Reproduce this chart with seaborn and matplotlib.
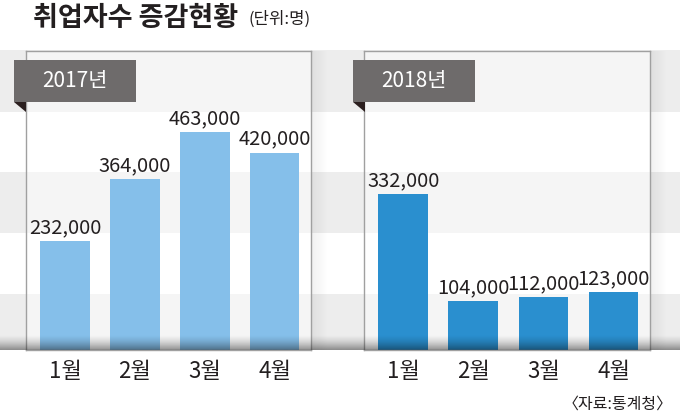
import numpy as np
import pandas as pd
import matplotlib
matplotlib.use("Agg")
import matplotlib.pyplot as plt
from matplotlib.patches import Rectangle, Polygon
import seaborn as sns

# ---- data ----
months = ["1월", "2월", "3월", "4월"]
values_2017 = [232000, 364000, 463000, 420000]
values_2018 = [332000, 104000, 112000, 123000]
years = ["2017년", "2018년"]
title = "취업자수 증감현황"
unit = "(단위:명)"
source = "〈자료:통계청〉"

sns.set_theme(style="white")
plt.rcParams['font.family'] = ['Noto Sans CJK KR', 'DejaVu Sans']

W, H = 680, 416
fig = plt.figure(figsize=(W / 100, H / 100), dpi=100)
fig.patch.set_facecolor("white")

# background axes in pixel coordinates
bg = fig.add_axes([0, 0, 1, 1], zorder=0)
bg.set_xlim(0, W)
bg.set_ylim(H, 0)
bg.axis("off")
for y0, y1 in [(50, 112), (172, 233), (294, 350)]:
    bg.add_patch(Rectangle((0, y0), W, y1 - y0, color="#ededed", lw=0))

# panel shadows on right side
for xr in [311, 650]:
    grad = np.linspace(0.06, 0, 18)[None, :]
    bg.imshow(np.dstack([np.zeros((1, 18))] * 3 + [grad]), extent=(xr, xr + 18, 350, 51),
              aspect="auto", zorder=1)
bg.set_xlim(0, W)
bg.set_ylim(H, 0)

panels = [
    (26, 311, values_2017, "#85bfea"),
    (364, 650, values_2018, "#2a8fcf"),
]
ymax = 636000
axes = []
for (x0, x1, vals, col) in panels:
    ax = fig.add_axes([x0 / W, (H - 350) / H, (x1 - x0) / W, 299 / H], zorder=2)
    ax.patch.set_facecolor("white")
    ax.patch.set_alpha(0.45)
    df = pd.DataFrame({"month": months, "value": vals})
    sns.barplot(data=df, x="month", y="value", color=col, width=0.71,
                saturation=1, ax=ax, edgecolor="none")
    ax.set_xlim(-0.56, 3.52)
    ax.set_ylim(0, ymax)
    ax.set_xlabel("")
    ax.set_ylabel("")
    ax.set_yticks([])
    ax.tick_params(axis="x", length=0, pad=7, labelcolor="#231f20", labelsize=16)
    for s in ax.spines.values():
        s.set_color("#a0a0a0")
        s.set_linewidth(1.0)
    ax.bar_label(ax.containers[0], labels=[f"{v:,}" for v in vals], padding=2,
                 fontsize=14.5, color="#231f20")
    axes.append(ax)

# overlay for labels & bottom shadow
ov = fig.add_axes([0, 0, 1, 1], zorder=5)
ov.set_xlim(0, W)
ov.set_ylim(H, 0)
ov.axis("off")
n = 16
alpha = np.linspace(0, 1, n) ** 1.5 * 0.4
alpha = alpha[:, None] * np.ones((1, 2))
ov.imshow(np.dstack([np.zeros((n, 2))] * 3 + [alpha]), extent=(0, W, 350, 334),
          aspect="auto", interpolation="bilinear")
ov.set_xlim(0, W)
ov.set_ylim(H, 0)

for (bx, label) in [(14, years[0]), (353, years[1])]:
    ov.add_patch(Rectangle((bx, 60), 122, 42, color="#6e6b6b", lw=0))
    ov.add_patch(Polygon([(bx, 102), (bx + 12, 102), (bx + 12, 112)], closed=True,
                         color="#2b1f1f", lw=0))
    ov.text(bx + 61, 81, label, color="white", fontsize=15, ha="center", va="center")

ov.text(33, 18, title, fontsize=19.5, fontweight="bold", color="#231f20",
        ha="left", va="center")
ov.text(249, 19, unit, fontsize=12, color="#231f20", ha="left", va="center")
ov.text(673, 404, source, fontsize=11.5, color="#231f20", ha="right", va="center")

fig.savefig("out.png", dpi=100, facecolor="white")
